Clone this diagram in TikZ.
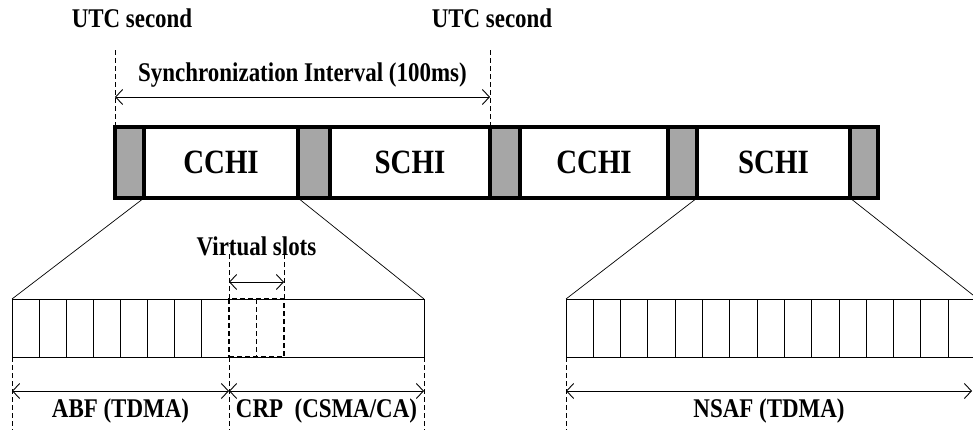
\documentclass[tikz,border=0pt]{standalone}
\usepackage{fontspec}
\setmainfont{Liberation Serif}[FakeStretch=0.85]
\usepackage{tikz}
\usetikzlibrary{arrows,arrows.meta,positioning}
\definecolor{guardgray}{RGB}{166,166,166}
\tikzstyle{guard} = [rectangle, draw=black, line width=3.5pt, fill=guardgray, minimum height=71pt, inner sep=0pt, outer sep=0pt]
\tikzstyle{chan} = [rectangle, draw=black, line width=3.5pt, fill=white, minimum height=71pt, inner sep=0pt, outer sep=0pt, font=\fontsize{34}{36}\selectfont\bfseries]
\tikzstyle{slotbar} = [rectangle, draw=black, line width=0.9pt, minimum height=58pt, inner sep=0pt, outer sep=0pt]
\tikzstyle{vslot} = [rectangle, draw=black, line width=1.8pt, dash pattern=on 5pt off 3pt, minimum height=58pt, inner sep=0pt, outer sep=0pt]
\tikzstyle{slotline} = [line width=0.9pt]
\tikzstyle{guide} = [dash pattern=on 5pt off 3pt, line width=0.7pt]
\tikzstyle{zoomline} = [line width=0.7pt]
\tikzstyle{arrow} = [<->, >={Straight Barb[length=7pt,width=15pt]}, line width=0.9pt]
\tikzstyle{lbl} = [font=\fontsize{27}{29}\selectfont\bfseries, inner sep=1pt]

\begin{document}
\begin{tikzpicture}[x=1pt, y=-1pt]
\useasboundingbox (0,0) rectangle (973,430);
\clip (0,0) rectangle (973,430);

% channel intervals
\node (g1) [guard, minimum width=29pt, anchor=west] at (115,162.5) {};
\node (c1) [chan, minimum width=154pt, right=0pt of g1] {CCHI};
\node (g2) [guard, minimum width=32pt, right=0pt of c1] {};
\node (s1) [chan, minimum width=160pt, right=0pt of g2] {SCHI};
\node (g3) [guard, minimum width=30pt, right=0pt of s1] {};
\node (c2) [chan, minimum width=148pt, right=0pt of g3] {CCHI};
\node (g4) [guard, minimum width=29pt, right=0pt of c2] {};
\node (s2) [chan, minimum width=153pt, right=0pt of g4] {SCHI};
\node (g5) [guard, minimum width=28pt, right=0pt of s2] {};

% UTC seconds
\node (utc1) [lbl] at (132,18) {UTC second};
\node (utc2) [lbl] at (492,18) {UTC second};
\draw [guide] (g1.north west) -- ++(0,-77);
\draw [guide] (g3.north west) -- ++(0,-77);
\draw [arrow] ([yshift=30pt]g1.north west) -- node[lbl, above=8pt] {Synchronization Interval (100ms)} ([yshift=30pt]g3.north west);

% slot bars
\node (abf) [slotbar, minimum width=412pt, anchor=north west] at (12,299) {};
\node (nsaf) [slotbar, minimum width=412pt, anchor=north west] at (566,299) {};
\foreach \k in {1,...,7}
  \draw [slotline] ([xshift=\k*27.1pt]abf.north west) -- ([xshift=\k*27.1pt]abf.south west);
\foreach \k in {1,...,14}
  \draw [slotline] ([xshift=\k*27.3pt]nsaf.north west) -- ([xshift=\k*27.3pt]nsaf.south west);
\node (vs) [vslot, minimum width=55pt, anchor=north west] at ([xshift=217pt]abf.north west) {};
\draw [vslot] (vs.north) -- (vs.south);

% zoom lines
\draw [zoomline] (c1.south west) -- (abf.north west);
\draw [zoomline] (c1.south east) -- (abf.north east);
\draw [zoomline] (s2.south west) -- (nsaf.north west);
\draw [zoomline] (s2.south east) -- (nsaf.north east);

% virtual slots
\draw [guide] (vs.north west) -- ++(0,-46);
\draw [guide] (vs.north east) -- ++(0,-46);
\draw [arrow] ([yshift=17pt]vs.north west) -- node[lbl, above=25pt] {Virtual slots} ([yshift=17pt]vs.north east);

% periods
\coordinate (crp) at (vs.south west);
\coordinate (nsafend) at ([xshift=-6pt]nsaf.south east);
\draw [guide] (abf.south west) -- ++(0,73);
\draw [guide] (crp) -- ++(0,73);
\draw [guide] (abf.south east) -- ++(0,73);
\draw [guide] (nsaf.south west) -- ++(0,73);
\draw [arrow] ([yshift=-34pt]abf.south west) -- node[lbl, below=6pt] {ABF (TDMA)} ([yshift=-34pt]crp);
\draw [arrow] ([yshift=-34pt]crp) -- node[lbl, below=6pt] {CRP\ \ (CSMA/CA)} ([yshift=-34pt]abf.south east);
\draw [arrow] ([yshift=-34pt]nsaf.south west) -- node[lbl, below=6pt] {NSAF (TDMA)} ([yshift=-34pt]nsafend);

\end{tikzpicture}
\end{document}
